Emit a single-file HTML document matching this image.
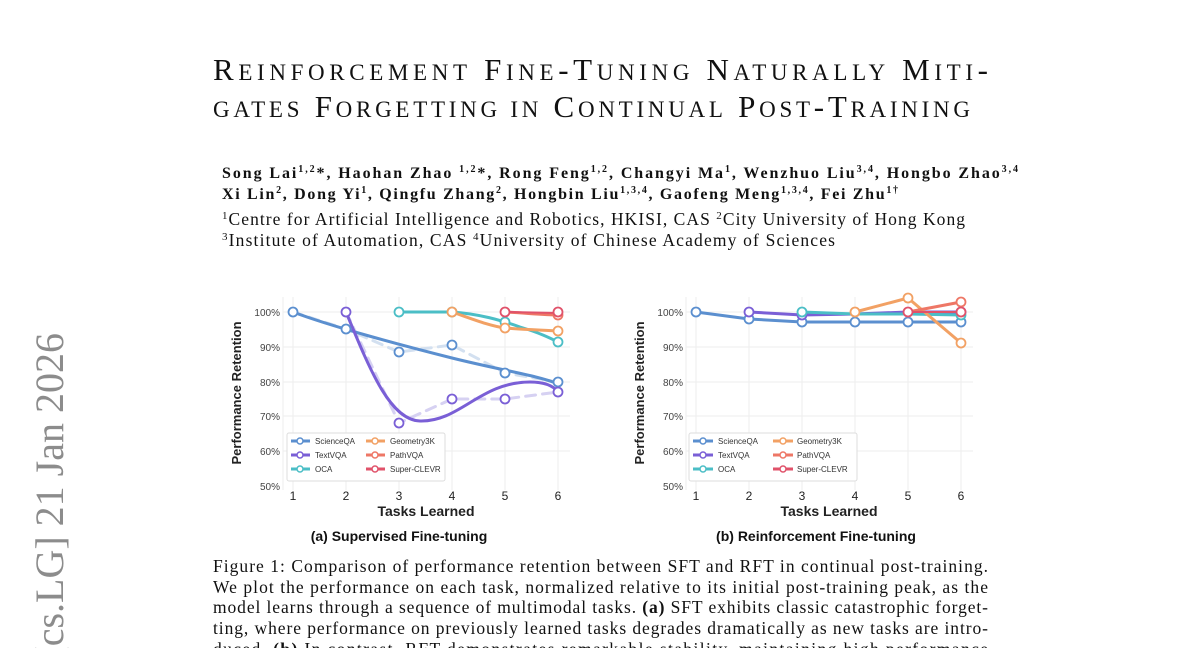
<!DOCTYPE html>
<html><head><meta charset="utf-8"><style>
html,body{margin:0;padding:0;background:#fff;width:1200px;height:648px;overflow:hidden;}
svg{display:block;}
.serif{font-family:"Liberation Serif",serif;}
.sans{font-family:"Liberation Sans",sans-serif;}
</style></head><body>
<svg width="1200" height="648" viewBox="0 0 1200 648" xmlns="http://www.w3.org/2000/svg">
<rect width="1200" height="648" fill="#fff"/>
<text class="serif" transform="translate(63,333) rotate(-90)" text-anchor="end" font-size="40" fill="#8c8c8c">arXiv:2507.05386v3  [cs.LG]  21 Jan 2026</text>

<g class="serif" fill="#111">
<text x="213" y="80" font-size="31" textLength="775" lengthAdjust="spacing">R<tspan font-size="23">EINFORCEMENT</tspan> F<tspan font-size="23">INE</tspan>-T<tspan font-size="23">UNING</tspan> N<tspan font-size="23">ATURALLY</tspan> M<tspan font-size="23">ITI</tspan>-</text>
<text x="213" y="117" font-size="31" textLength="757" lengthAdjust="spacing"><tspan font-size="23">GATES</tspan> F<tspan font-size="23">ORGETTING IN</tspan> C<tspan font-size="23">ONTINUAL</tspan> P<tspan font-size="23">OST</tspan>-T<tspan font-size="23">RAINING</tspan></text>
<text x="222" y="178" font-size="16" font-weight="bold" textLength="796" lengthAdjust="spacing">Song Lai<tspan font-size="10" dy="-6">1,2</tspan><tspan dy="6">*, Haohan Zhao </tspan><tspan font-size="10" dy="-6">1,2</tspan><tspan dy="6">*, Rong Feng</tspan><tspan font-size="10" dy="-6">1,2</tspan><tspan dy="6">, Changyi Ma</tspan><tspan font-size="10" dy="-6">1</tspan><tspan dy="6">, Wenzhuo Liu</tspan><tspan font-size="10" dy="-6">3,4</tspan><tspan dy="6">, Hongbo Zhao</tspan><tspan font-size="10" dy="-6">3,4</tspan></text>
<text x="222" y="199" font-size="16" font-weight="bold" textLength="676" lengthAdjust="spacing">Xi Lin<tspan font-size="10" dy="-6">2</tspan><tspan dy="6">, Dong Yi</tspan><tspan font-size="10" dy="-6">1</tspan><tspan dy="6">, Qingfu Zhang</tspan><tspan font-size="10" dy="-6">2</tspan><tspan dy="6">, Hongbin Liu</tspan><tspan font-size="10" dy="-6">1,3,4</tspan><tspan dy="6">, Gaofeng Meng</tspan><tspan font-size="10" dy="-6">1,3,4</tspan><tspan dy="6">, Fei Zhu</tspan><tspan font-size="10" dy="-6">1†</tspan></text>
<text x="222" y="225" font-size="17.5" textLength="743" lengthAdjust="spacing"><tspan font-size="11" dy="-6">1</tspan><tspan dy="6">Centre for Artificial Intelligence and Robotics, HKISI, CAS   </tspan><tspan font-size="11" dy="-6">2</tspan><tspan dy="6">City University of Hong Kong</tspan></text>
<text x="222" y="246" font-size="17.5" textLength="613" lengthAdjust="spacing"><tspan font-size="11" dy="-6">3</tspan><tspan dy="6">Institute of Automation, CAS   </tspan><tspan font-size="11" dy="-6">4</tspan><tspan dy="6">University of Chinese Academy of Sciences</tspan></text>
</g>

<g class="sans">
<g stroke="#eee" stroke-width="1">
<line x1="283" y1="312" x2="570" y2="312"/><line x1="283" y1="347" x2="570" y2="347"/><line x1="283" y1="382" x2="570" y2="382"/><line x1="283" y1="416" x2="570" y2="416"/><line x1="283" y1="451" x2="570" y2="451"/>
<line x1="293" y1="297" x2="293" y2="490"/><line x1="346" y1="297" x2="346" y2="490"/><line x1="399" y1="297" x2="399" y2="490"/><line x1="452" y1="297" x2="452" y2="490"/><line x1="505" y1="297" x2="505" y2="490"/><line x1="558" y1="297" x2="558" y2="490"/>
<line x1="283" y1="297" x2="283" y2="490"/>
</g>
<g font-size="10" fill="#444" text-anchor="end">
<text x="280" y="316">100%</text><text x="280" y="351">90%</text><text x="280" y="386">80%</text><text x="280" y="420">70%</text><text x="280" y="455">60%</text><text x="280" y="490">50%</text>
</g>
<g font-size="12" fill="#222" text-anchor="middle">
<text x="293" y="500">1</text><text x="346" y="500">2</text><text x="399" y="500">3</text><text x="452" y="500">4</text><text x="505" y="500">5</text><text x="558" y="500">6</text>
</g>
<text x="426" y="516" font-size="14" font-weight="bold" text-anchor="middle" fill="#222">Tasks Learned</text>
<text transform="translate(241,393) rotate(-90)" font-size="13" font-weight="bold" text-anchor="middle" fill="#222">Performance Retention</text>
<text x="399" y="541" font-size="14" font-weight="bold" text-anchor="middle" fill="#111">(a) Supervised Fine-tuning</text>
<g fill="none" stroke-linecap="round">
<polyline points="346,312 399,423 452,399 505,399 558,392" stroke="#d6d1f2" stroke-width="3" stroke-dasharray="10,7"/>
<polyline points="293,312 346,329 399,352 452,345 505,373 558,382" stroke="#d3e0f0" stroke-width="3" stroke-dasharray="10,7"/>
<path d="M293,312 C330,326 400,345 452,358 C500,370 540,376 558,384" stroke="#5b8fcf" stroke-width="3"/>
<path d="M346,312 C370,370 390,420 420,421 C460,422 480,382 530,382 C548,382 555,388 558,392" stroke="#7a5fd6" stroke-width="3"/>
<path d="M399,312 L452,312 C480,314 500,320 520,327 C540,333 550,338 558,342" stroke="#4bbec6" stroke-width="3"/>
<path d="M452,312 C475,320 490,326 505,328 C530,330 545,330 558,331" stroke="#f2a164" stroke-width="3"/>
<path d="M505,312 C525,313 545,315 558,315" stroke="#ee7766" stroke-width="3"/>
<path d="M505,312 L558,313" stroke="#e0526a" stroke-width="2"/>
</g>
<g fill="#fff" stroke-width="1.8">
<circle cx="293" cy="312" r="4.5" stroke="#5b8fcf"/><circle cx="346" cy="329" r="4.5" stroke="#5b8fcf"/><circle cx="399" cy="352" r="4.5" stroke="#5b8fcf"/><circle cx="452" cy="345" r="4.5" stroke="#5b8fcf"/><circle cx="505" cy="373" r="4.5" stroke="#5b8fcf"/><circle cx="558" cy="382" r="4.5" stroke="#5b8fcf"/>
<circle cx="346" cy="312" r="4.5" stroke="#7a5fd6"/><circle cx="399" cy="423" r="4.5" stroke="#7a5fd6"/><circle cx="452" cy="399" r="4.5" stroke="#7a5fd6"/><circle cx="505" cy="399" r="4.5" stroke="#7a5fd6"/><circle cx="558" cy="392" r="4.5" stroke="#7a5fd6"/>
<circle cx="399" cy="312" r="4.5" stroke="#4bbec6"/><circle cx="452" cy="312" r="4.5" stroke="#4bbec6"/><circle cx="505" cy="322" r="4.5" stroke="#4bbec6"/><circle cx="558" cy="342" r="4.5" stroke="#4bbec6"/>
<circle cx="452" cy="312" r="4.5" stroke="#f2a164"/><circle cx="505" cy="328" r="4.5" stroke="#f2a164"/><circle cx="558" cy="331" r="4.5" stroke="#f2a164"/>
<circle cx="558" cy="315" r="4.5" stroke="#ee7766"/>
<circle cx="505" cy="312" r="4.5" stroke="#e0526a"/><circle cx="558" cy="312" r="4.5" stroke="#e0526a"/>
</g>
<rect x="287" y="433" width="158" height="48" fill="#fff" stroke="#ddd" rx="2"/>
<g font-size="8" fill="#333">
<line x1="291" y1="441" x2="310" y2="441" stroke="#5b8fcf" stroke-width="3"/><circle cx="300" cy="441" r="3" fill="#fff" stroke="#5b8fcf" stroke-width="1.5"/><text x="315" y="444">ScienceQA</text>
<line x1="291" y1="455" x2="310" y2="455" stroke="#7a5fd6" stroke-width="3"/><circle cx="300" cy="455" r="3" fill="#fff" stroke="#7a5fd6" stroke-width="1.5"/><text x="315" y="458">TextVQA</text>
<line x1="291" y1="469" x2="310" y2="469" stroke="#4bbec6" stroke-width="3"/><circle cx="300" cy="469" r="3" fill="#fff" stroke="#4bbec6" stroke-width="1.5"/><text x="315" y="472">OCA</text>
<line x1="366" y1="441" x2="385" y2="441" stroke="#f2a164" stroke-width="3"/><circle cx="375" cy="441" r="3" fill="#fff" stroke="#f2a164" stroke-width="1.5"/><text x="390" y="444">Geometry3K</text>
<line x1="366" y1="455" x2="385" y2="455" stroke="#ee7766" stroke-width="3"/><circle cx="375" cy="455" r="3" fill="#fff" stroke="#ee7766" stroke-width="1.5"/><text x="390" y="458">PathVQA</text>
<line x1="366" y1="469" x2="385" y2="469" stroke="#e0526a" stroke-width="3"/><circle cx="375" cy="469" r="3" fill="#fff" stroke="#e0526a" stroke-width="1.5"/><text x="390" y="472">Super-CLEVR</text>
</g>
</g>

<g class="sans">
<g stroke="#eee" stroke-width="1">
<line x1="686" y1="312" x2="973" y2="312"/><line x1="686" y1="347" x2="973" y2="347"/><line x1="686" y1="382" x2="973" y2="382"/><line x1="686" y1="416" x2="973" y2="416"/><line x1="686" y1="451" x2="973" y2="451"/>
<line x1="696" y1="297" x2="696" y2="490"/><line x1="749" y1="297" x2="749" y2="490"/><line x1="802" y1="297" x2="802" y2="490"/><line x1="855" y1="297" x2="855" y2="490"/><line x1="908" y1="297" x2="908" y2="490"/><line x1="961" y1="297" x2="961" y2="490"/>
<line x1="686" y1="297" x2="686" y2="490"/>
</g>
<g font-size="10" fill="#444" text-anchor="end">
<text x="683" y="316">100%</text><text x="683" y="351">90%</text><text x="683" y="386">80%</text><text x="683" y="420">70%</text><text x="683" y="455">60%</text><text x="683" y="490">50%</text>
</g>
<g font-size="12" fill="#222" text-anchor="middle">
<text x="696" y="500">1</text><text x="749" y="500">2</text><text x="802" y="500">3</text><text x="855" y="500">4</text><text x="908" y="500">5</text><text x="961" y="500">6</text>
</g>
<text x="829" y="516" font-size="14" font-weight="bold" text-anchor="middle" fill="#222">Tasks Learned</text>
<text transform="translate(644,393) rotate(-90)" font-size="13" font-weight="bold" text-anchor="middle" fill="#222">Performance Retention</text>
<text x="816" y="541" font-size="14" font-weight="bold" text-anchor="middle" fill="#111">(b) Reinforcement Fine-tuning</text>
<g fill="none" stroke-width="3" stroke-linejoin="round">
<polyline points="696,312 749,319 802,322 855,322 908,322 961,322" stroke="#5b8fcf"/>
<polyline points="749,312 802,315 855,314 908,312 961,312" stroke="#7a5fd6"/>
<polyline points="802,312 855,314 908,314 961,315" stroke="#4bbec6"/>
<polyline points="855,312 908,298 961,343" stroke="#f2a164"/>
<polyline points="908,312 961,302" stroke="#ee7766"/>
<polyline points="908,312 961,312" stroke="#e0526a" stroke-width="2"/>
</g>
<g fill="#fff" stroke-width="1.8">
<circle cx="696" cy="312" r="4.5" stroke="#5b8fcf"/><circle cx="749" cy="319" r="4.5" stroke="#5b8fcf"/><circle cx="802" cy="322" r="4.5" stroke="#5b8fcf"/><circle cx="855" cy="322" r="4.5" stroke="#5b8fcf"/><circle cx="908" cy="322" r="4.5" stroke="#5b8fcf"/><circle cx="961" cy="322" r="4.5" stroke="#5b8fcf"/>
<circle cx="749" cy="312" r="4.5" stroke="#7a5fd6"/><circle cx="802" cy="315" r="4.5" stroke="#7a5fd6"/><circle cx="961" cy="312" r="4.5" stroke="#7a5fd6"/>
<circle cx="802" cy="312" r="4.5" stroke="#4bbec6"/><circle cx="961" cy="315" r="4.5" stroke="#4bbec6"/>
<circle cx="855" cy="312" r="4.5" stroke="#f2a164"/><circle cx="908" cy="298" r="4.5" stroke="#f2a164"/><circle cx="961" cy="343" r="4.5" stroke="#f2a164"/>
<circle cx="961" cy="302" r="4.5" stroke="#ee7766"/>
<circle cx="908" cy="312" r="4.5" stroke="#e0526a"/><circle cx="961" cy="312" r="4.5" stroke="#e0526a"/>
</g>
<rect x="689" y="433" width="168" height="48" fill="#fff" stroke="#ddd" rx="2"/>
<g font-size="8" fill="#333">
<line x1="693" y1="441" x2="713" y2="441" stroke="#5b8fcf" stroke-width="3"/><circle cx="703" cy="441" r="3" fill="#fff" stroke="#5b8fcf" stroke-width="1.5"/><text x="718" y="444">ScienceQA</text>
<line x1="693" y1="455" x2="713" y2="455" stroke="#7a5fd6" stroke-width="3"/><circle cx="703" cy="455" r="3" fill="#fff" stroke="#7a5fd6" stroke-width="1.5"/><text x="718" y="458">TextVQA</text>
<line x1="693" y1="469" x2="713" y2="469" stroke="#4bbec6" stroke-width="3"/><circle cx="703" cy="469" r="3" fill="#fff" stroke="#4bbec6" stroke-width="1.5"/><text x="718" y="472">OCA</text>
<line x1="773" y1="441" x2="793" y2="441" stroke="#f2a164" stroke-width="3"/><circle cx="783" cy="441" r="3" fill="#fff" stroke="#f2a164" stroke-width="1.5"/><text x="797" y="444">Geometry3K</text>
<line x1="773" y1="455" x2="793" y2="455" stroke="#ee7766" stroke-width="3"/><circle cx="783" cy="455" r="3" fill="#fff" stroke="#ee7766" stroke-width="1.5"/><text x="797" y="458">PathVQA</text>
<line x1="773" y1="469" x2="793" y2="469" stroke="#e0526a" stroke-width="3"/><circle cx="783" cy="469" r="3" fill="#fff" stroke="#e0526a" stroke-width="1.5"/><text x="797" y="472">Super-CLEVR</text>
</g>
</g>

<g class="serif" font-size="17.5" fill="#111">
<text x="213" y="572" textLength="775" lengthAdjust="spacing">Figure 1: Comparison of performance retention between SFT and RFT in continual post-training.</text>
<text x="213" y="593" textLength="775" lengthAdjust="spacing">We plot the performance on each task, normalized relative to its initial post-training peak, as the</text>
<text x="213" y="613" textLength="775" lengthAdjust="spacing">model learns through a sequence of multimodal tasks. <tspan font-weight="bold">(a)</tspan> SFT exhibits classic catastrophic forget-</text>
<text x="213" y="634" textLength="775" lengthAdjust="spacing">ting, where performance on previously learned tasks degrades dramatically as new tasks are intro-</text>
<text x="213" y="655" textLength="775" lengthAdjust="spacing">duced. <tspan font-weight="bold">(b)</tspan> In contrast, RFT demonstrates remarkable stability, maintaining high performance</text>
</g>
</svg>
</body></html>
